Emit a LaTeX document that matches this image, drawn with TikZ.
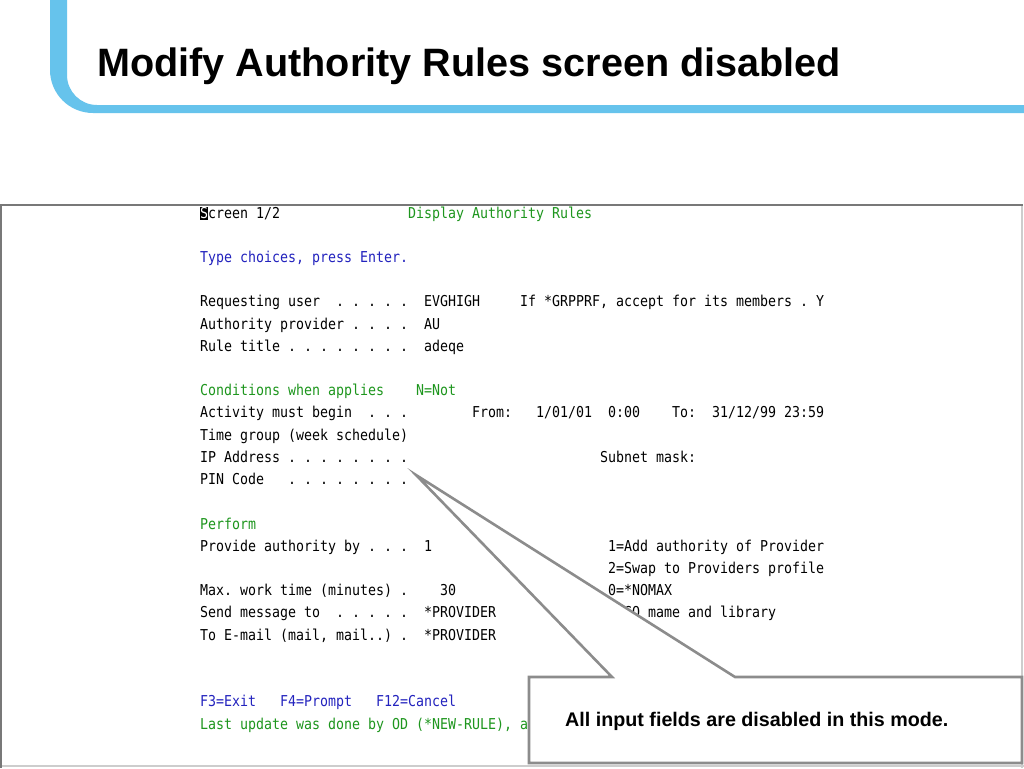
\documentclass[tikz,border=0pt]{standalone}
\usepackage{fontspec}
\setmainfont{Liberation Sans}
\newfontfamily\scrfont[FakeStretch=0.886]{DejaVu Sans Mono}
\newfontfamily\titlefont{Liberation Sans}
\definecolor{barblue}{RGB}{102,195,236}
\definecolor{scrgreen}{RGB}{30,150,30}
\definecolor{scrblue}{RGB}{35,35,190}
\definecolor{framegray}{RGB}{120,120,120}
\definecolor{lightframe}{RGB}{205,205,205}
\definecolor{callgray}{RGB}{140,140,140}
\tikzset{
  ln/.style={anchor=base west, inner sep=0pt, font=\frenchspacing\scrfont\fontsize{15}{18}\selectfont, text=black},
  gr/.style={ln, text=scrgreen},
  bl/.style={ln, text=scrblue},
  callout/.style={draw=callgray, line width=2.6pt, fill=white, line join=miter},
}
\newcommand\cx[1]{200+8*#1}
\newcommand\ry[1]{218+22.22*#1}
\begin{document}
\begin{tikzpicture}[x=1pt,y=-1pt]
\useasboundingbox (0,0) rectangle (1024,768);
\fill[white] (0,0) rectangle (1024,768);
% title decoration
\fill[barblue] (50,0) -- (50,70) arc[start angle=180,end angle=90,radius=43] -- (1024,113) -- (1024,105) -- (97,105) arc[start angle=90,end angle=180,radius=30] -- (67,0) -- cycle;
\node[anchor=base west, inner sep=0pt, font=\titlefont\bfseries\fontsize{39.6}{46}\selectfont] (title) at (97,76) {Modify Authority Rules screen disabled};
% screen frame
\draw[lightframe, line width=1.5pt] (1022,205) -- (1022,768);
\draw[lightframe, line width=1.5pt] (0,766) -- (1024,766);
\draw[framegray, line width=1.2pt] (1,205) -- (1,768);
\draw[framegray, line width=2.5pt] (0,205) -- (1023,205);
% screen text
\fill[black] (200,206.5) rectangle (208,219.5);
\node[ln, text=white] (s0) at ({\cx{0}},{\ry{0}}) {S};
\node[ln] (r0a) at ({\cx{1}},{\ry{0}}) {creen 1/2};
\node[gr] (r0b) at ({\cx{26}},{\ry{0}}) {Display Authority Rules};
\node[bl] (r2) at ({\cx{0}},{\ry{2}}) {Type choices, press Enter.};
\node[ln] (r4a) at ({\cx{0}},{\ry{4}}) {Requesting user};
\node[ln] (r4d) at ({\cx{17}},{\ry{4}}) {. . . . .};
\node[ln] (r4b) at ({\cx{28}},{\ry{4}}) {EVGHIGH};
\node[ln] (r4c) at ({\cx{40}},{\ry{4}}) {If *GRPPRF, accept for its members . Y};
\node[ln] (r5a) at ({\cx{0}},{\ry{5}}) {Authority provider . . . .};
\node[ln] (r5b) at ({\cx{28}},{\ry{5}}) {AU};
\node[ln] (r6a) at ({\cx{0}},{\ry{6}}) {Rule title . . . . . . . .};
\node[ln] (r6b) at ({\cx{28}},{\ry{6}}) {adeqe};
\node[gr] (r8a) at ({\cx{0}},{\ry{8}}) {Conditions when applies};
\node[gr] (r8b) at ({\cx{27}},{\ry{8}}) {N=Not};
\node[ln] (r9a) at ({\cx{0}},{\ry{9}}) {Activity must begin};
\node[ln] (r9g) at ({\cx{21}},{\ry{9}}) {. . .};
\node[ln] (r9b) at ({\cx{34}},{\ry{9}}) {From:};
\node[ln] (r9c) at ({\cx{42}},{\ry{9}}) {1/01/01};
\node[ln] (r9d) at ({\cx{51}},{\ry{9}}) {0:00};
\node[ln] (r9e) at ({\cx{59}},{\ry{9}}) {To:};
\node[ln] (r9f) at ({\cx{64}},{\ry{9}}) {31/12/99 23:59};
\node[ln] (r10) at ({\cx{0}},{\ry{10}}) {Time group (week schedule)};
\node[ln] (r11a) at ({\cx{0}},{\ry{11}}) {IP Address . . . . . . . .};
\node[ln] (r11b) at ({\cx{50}},{\ry{11}}) {Subnet mask:};
\node[ln] (r12a) at ({\cx{0}},{\ry{12}}) {PIN Code};
\node[ln] (r12b) at ({\cx{11}},{\ry{12}}) {. . . . . . . .};
\node[gr] (r14) at ({\cx{0}},{\ry{14}}) {Perform};
\node[ln] (r15a) at ({\cx{0}},{\ry{15}}) {Provide authority by . . .};
\node[ln] (r15b) at ({\cx{28}},{\ry{15}}) {1};
\node[ln] (r15c) at ({\cx{51}},{\ry{15}}) {1=Add authority of Provider};
\node[ln] (r16) at ({\cx{51}},{\ry{16}}) {2=Swap to Providers profile};
\node[ln] (r17a) at ({\cx{0}},{\ry{17}}) {Max. work time (minutes) .};
\node[ln] (r17b) at ({\cx{30}},{\ry{17}}) {30};
\node[ln] (r17c) at ({\cx{51}},{\ry{17}}) {0=*NOMAX};
\node[ln] (r18a) at ({\cx{0}},{\ry{18}}) {Send message to};
\node[ln] (r18d) at ({\cx{17}},{\ry{18}}) {. . . . .};
\node[ln] (r18b) at ({\cx{28}},{\ry{18}}) {*PROVIDER};
\node[ln] (r18c) at ({\cx{51}},{\ry{18}}) {MSGQ mame and library};
\node[ln] (r19a) at ({\cx{0}},{\ry{19}}) {To E-mail (mail, mail..) .};
\node[ln] (r19b) at ({\cx{28}},{\ry{19}}) {*PROVIDER};
\node[bl] (r22a) at ({\cx{0}},{\ry{22}}) {F3=Exit};
\node[bl] (r22b) at ({\cx{10}},{\ry{22}}) {F4=Prompt};
\node[bl] (r22c) at ({\cx{22}},{\ry{22}}) {F12=Cancel};
\node[gr] (r23) at ({\cx{0}},{\ry{23}}) {Last update was done by OD (*NEW-RULE), a};
% callout
\coordinate (tip) at (416,475);
\coordinate (bl) at (529,763);
\coordinate (tr) at (1022,677);
\draw[callout] (bl |- tr) -- (612,677) -- (tip) -- (735,677) -- (tr) -- (tr |- bl) -- (bl) -- cycle;
\node[anchor=base west, inner sep=0pt, font=\bfseries\fontsize{19.7}{24}\selectfont] (note) at (565,726) {All input fields are disabled in this mode.};
\end{tikzpicture}
\end{document}
